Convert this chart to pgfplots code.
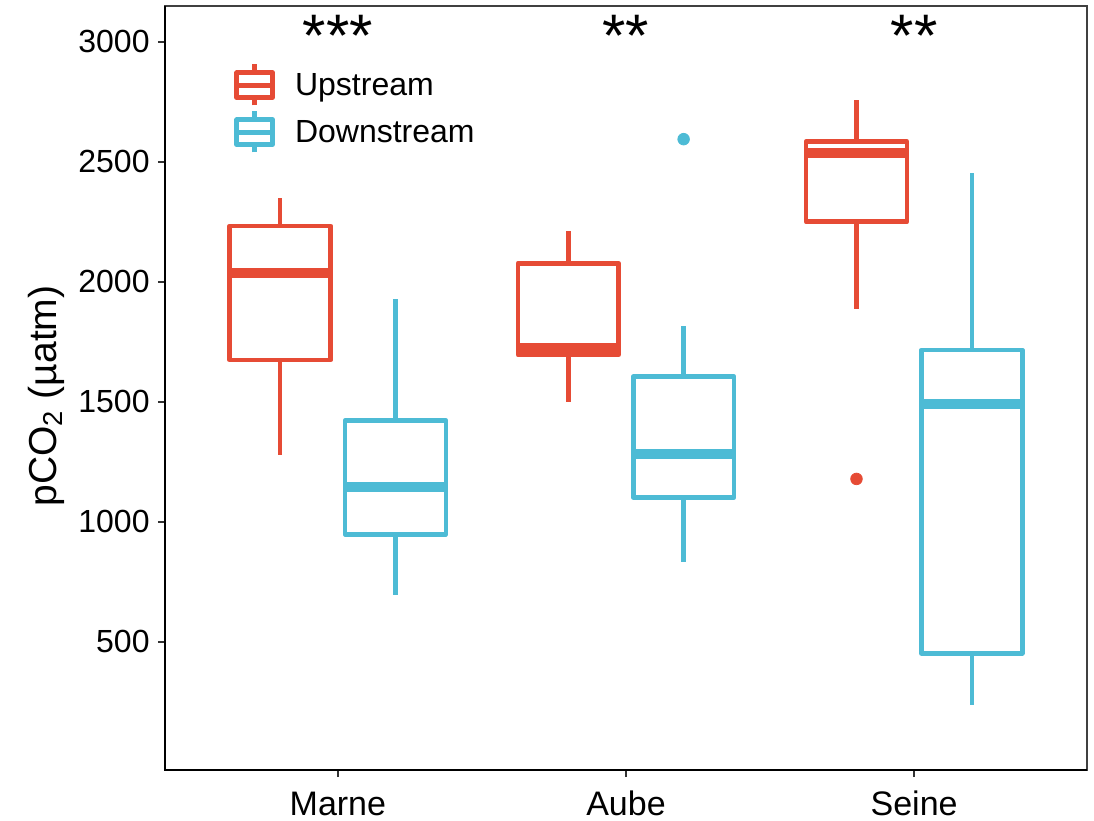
\documentclass[border=0pt]{standalone}
\usepackage{pgfplots}
\pgfplotsset{compat=1.18}
\usepackage{fontspec}
\setmainfont{Liberation Sans}
\definecolor{upc}{HTML}{E64B35}
\definecolor{dnc}{HTML}{4DBBD5}
\begin{document}
\begin{tikzpicture}
\useasboundingbox (-82.5bp,-25.5bp) rectangle (464.5bp,385bp);
\begin{axis}[
  at={(0,0)}, anchor=south west, scale only axis,
  width=461bp, height=382bp,
  xmin=0.4, xmax=3.6, ymin=-35, ymax=3149,
  clip=false,
  xtick={1,2,3}, xticklabels={Marne,Aube,Seine},
  ytick={500,1000,1500,2000,2500,3000},
  yticklabels={500,1000,1500,2000,2500,3000},
  tick pos=left, tick align=outside, major tick length=3.5bp,
  major tick style={line width=0.9bp, black!80},
  axis line style={line width=0.6bp, black!75},
  yticklabel style={font=\fontsize{16bp}{19bp}\selectfont, inner sep=0bp, xshift=-4bp},
  xticklabel style={font=\fontsize{17bp}{20bp}\selectfont, inner sep=0bp, anchor=base, yshift=-19bp},
  ylabel={pCO\textsubscript{2} (µatm)},
  ylabel style={font=\fontsize{19.5bp}{23bp}\selectfont, xshift=-4bp, yshift=3.5bp},
  legend style={at={(0.0747,0.927)}, anchor=north west,
    draw=none, fill=none, inner sep=0pt, row sep=0.8bp, column sep=8bp,
    font=\fontsize{16bp}{19bp}\selectfont},
  legend cell align=left,
  legend image code/.code={
    \draw[#1, line width=2.2bp] (8.5bp,-9.5bp) -- (8.5bp,11bp);
    \draw[#1, line width=2.4bp, fill=white, line join=round] (-0.5bp,-5.5bp) rectangle (17.5bp,6.75bp);
    \draw[#1, line width=2.4bp] (-0.5bp,0.6bp) -- (17.5bp,0.6bp);
  },
  bxs/.style={forget plot, line width=2.4bp, fill=white, line join=round, mark=none},
  wks/.style={forget plot, line width=2.2bp, mark=none},
  mds/.style={forget plot, line width=5bp, mark=none},
]
% ---- Marne Upstream (pos 0.8): 1278 1674 2035 2232 2350
\addplot[upc, wks] coordinates {(0.8,2232) (0.8,2350)};
\addplot[upc, wks] coordinates {(0.8,1674) (0.8,1278)};
\addplot[upc, bxs] coordinates {(0.625,1674) (0.975,1674) (0.975,2232) (0.625,2232) (0.625,1674) (0.975,1674)};
\addplot[upc, mds] coordinates {(0.625,2035) (0.975,2035)};
% ---- Marne Downstream (pos 1.2): 695 948 1146 1421 1927
\addplot[dnc, wks] coordinates {(1.2,1421) (1.2,1927)};
\addplot[dnc, wks] coordinates {(1.2,948) (1.2,695)};
\addplot[dnc, bxs] coordinates {(1.025,948) (1.375,948) (1.375,1421) (1.025,1421) (1.025,948) (1.375,948)};
\addplot[dnc, mds] coordinates {(1.025,1146) (1.375,1146)};
% ---- Aube Upstream (pos 1.8): 1500 1695 1722 2077 2212
\addplot[upc, wks] coordinates {(1.8,2077) (1.8,2212)};
\addplot[upc, wks] coordinates {(1.8,1695) (1.8,1500)};
\addplot[upc, bxs] coordinates {(1.625,1695) (1.975,1695) (1.975,2077) (1.625,2077) (1.625,1695) (1.975,1695)};
\addplot[upc, mds] coordinates {(1.625,1722) (1.975,1722)};
% ---- Aube Downstream (pos 2.2): 831 1102 1282 1604 1815, outlier 2594
\addplot[dnc, wks] coordinates {(2.2,1604) (2.2,1815)};
\addplot[dnc, wks] coordinates {(2.2,1102) (2.2,831)};
\addplot[dnc, bxs] coordinates {(2.025,1102) (2.375,1102) (2.375,1604) (2.025,1604) (2.025,1102) (2.375,1102)};
\addplot[dnc, mds] coordinates {(2.025,1282) (2.375,1282)};
% ---- Seine Upstream (pos 2.8): 1885 2250 2537 2583 2757, outlier 1178
\addplot[upc, wks] coordinates {(2.8,2583) (2.8,2757)};
\addplot[upc, wks] coordinates {(2.8,2250) (2.8,1885)};
\addplot[upc, bxs] coordinates {(2.625,2250) (2.975,2250) (2.975,2583) (2.625,2583) (2.625,2250) (2.975,2250)};
\addplot[upc, mds] coordinates {(2.625,2537) (2.975,2537)};
% ---- Seine Downstream (pos 3.2): 236 452 1490 1715 2454
\addplot[dnc, wks] coordinates {(3.2,1715) (3.2,2454)};
\addplot[dnc, wks] coordinates {(3.2,452) (3.2,236)};
\addplot[dnc, bxs] coordinates {(3.025,452) (3.375,452) (3.375,1715) (3.025,1715) (3.025,452) (3.375,452)};
\addplot[dnc, mds] coordinates {(3.025,1490) (3.375,1490)};
% outliers
\addplot[forget plot, only marks, mark=*, mark size=2.9bp, color=dnc, mark options={fill=dnc, draw=dnc}]
  coordinates {(2.2,2594)};
\addplot[forget plot, only marks, mark=*, mark size=2.9bp, color=upc, mark options={fill=upc, draw=upc}]
  coordinates {(2.8,1178)};
\addlegendimage{draw=upc}
\addlegendentry{Upstream}
\addlegendimage{draw=dnc}
\addlegendentry{Downstream}
\node[font=\fontsize{30bp}{32bp}\selectfont, anchor=base] at (axis cs:1,2937) {***};
\node[font=\fontsize{30bp}{32bp}\selectfont, anchor=base] at (axis cs:2,2937) {**};
\node[font=\fontsize{30bp}{32bp}\selectfont, anchor=base] at (axis cs:3,2937) {**};
\draw[line width=1.25bp, black] (rel axis cs:0,1) -- (rel axis cs:0,0) -- (rel axis cs:1,0);
\end{axis}
\end{tikzpicture}
\end{document}
